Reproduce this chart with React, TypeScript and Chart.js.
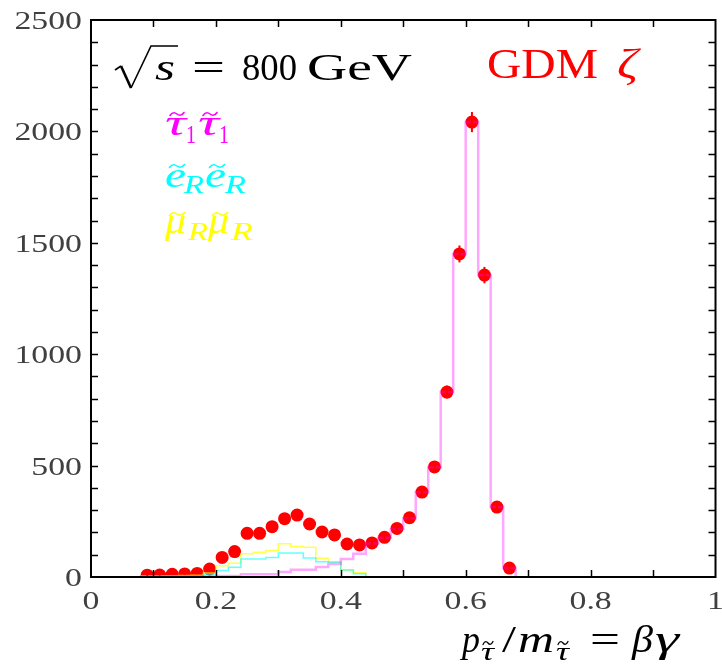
import React, { useEffect, useRef } from 'react';
import { Chart, registerables } from 'chart.js';

Chart.register(...registerables);

// ---- data ----
const binCenters = [
  0.09, 0.11, 0.13, 0.15, 0.17, 0.19, 0.21, 0.23, 0.25, 0.27,
  0.29, 0.31, 0.33, 0.35, 0.37, 0.39, 0.41, 0.43, 0.45, 0.47,
  0.49, 0.51, 0.53, 0.55, 0.57, 0.59, 0.61, 0.63, 0.65, 0.67,
];
const binWidth = 0.02;

// total (GDM zeta, red points)
const totalCounts = [
  8, 9, 12, 14, 16, 36, 88, 114, 196, 196,
  226, 262, 278, 238, 202, 189, 148, 144, 153, 178,
  218, 266, 381, 494, 830, 1450, 2042, 1355, 314, 40,
];
const totalErrors = [
  3, 3, 3.5, 3.7, 4, 6, 9.4, 10.7, 14, 14,
  15, 16.2, 16.7, 15.4, 14.2, 13.7, 12.2, 12, 12.4, 13.3,
  14.8, 16.3, 19.5, 22.2, 28.8, 38, 45.2, 36.8, 17.7, 6.3,
];
// stau_1 stau_1 (magenta histogram)
const stauCounts = [
  1, 1, 2, 2, 2, 3, 5, 5, 12, 12,
  12, 22, 32, 32, 45, 58, 81, 104, 150, 176,
  216, 264, 380, 493, 830, 1450, 2042, 1355, 314, 40,
];
// selectron_R selectron_R (cyan histogram)
const selectronCounts = [
  3, 3, 4, 5, 6, 12, 29, 44, 81, 81,
  87, 108, 108, 85, 69, 66, 31, 15,
];
// smuon_R smuon_R (yellow histogram)
const smuonCounts = [
  4, 4, 6, 7, 8, 18, 50, 62, 104, 111,
  119, 149, 137, 134, 84, 69, 31, 19,
];

const xTickValues = [0, 0.2, 0.4, 0.6, 0.8, 1];
const xTickLabels = ['0', '0.2', '0.4', '0.6', '0.8', '1'];
const yTickValues = [0, 500, 1000, 1500, 2000, 2500];
const yTickLabels = ['0', '500', '1000', '1500', '2000', '2500'];
const xMinorTicks = [0.1, 0.2, 0.3, 0.4, 0.5, 0.6, 0.7, 0.8, 0.9];
const yMinorTicks = [
  100, 200, 300, 400, 500, 600, 700, 800, 900, 1000, 1100, 1200,
  1300, 1400, 1500, 1600, 1700, 1800, 1900, 2000, 2100, 2200, 2300, 2400,
];

// ---- helpers ----
function histPoints(values: number[]) {
  const pts: { x: number; y: number }[] = [];
  const half = binWidth / 2;
  pts.push({ x: binCenters[0] - half, y: 0 });
  values.forEach((v, i) => {
    pts.push({ x: binCenters[i] - half, y: v });
    pts.push({ x: binCenters[i] + half, y: v });
  });
  pts.push({ x: binCenters[values.length - 1] + half, y: 0 });
  return pts;
}

const SERIF = '"Liberation Serif", "DejaVu Serif", serif';

function drawText(
  ctx: CanvasRenderingContext2D,
  text: string,
  x: number,
  y: number,
  font: string,
  color: string,
  opts: { width?: number; sx?: number; align?: 'left' | 'center' | 'right' } = {}
) {
  ctx.save();
  ctx.font = font;
  ctx.fillStyle = color;
  ctx.textBaseline = 'alphabetic';
  ctx.textAlign = 'left';
  const w = ctx.measureText(text).width;
  const sx = opts.width ? opts.width / w : opts.sx ?? 1;
  let left = x;
  if (opts.align === 'center') left = x - (w * sx) / 2;
  else if (opts.align === 'right') left = x - w * sx;
  ctx.translate(left, y);
  ctx.scale(sx, 1);
  ctx.fillText(text, 0, 0);
  ctx.restore();
}

function drawTilde(ctx: CanvasRenderingContext2D, cx: number, y: number, w: number, color: string, lw = 1.6) {
  const x0 = cx - w / 2;
  ctx.save();
  ctx.strokeStyle = color;
  ctx.lineWidth = lw;
  ctx.lineCap = 'round';
  ctx.beginPath();
  ctx.moveTo(x0, y + 1.5);
  ctx.bezierCurveTo(x0 + w * 0.2, y - 2.8, x0 + w * 0.4, y - 1.2, x0 + w * 0.5, y);
  ctx.bezierCurveTo(x0 + w * 0.6, y + 1.2, x0 + w * 0.8, y + 2.8, x0 + w, y - 1.5);
  ctx.stroke();
  ctx.restore();
}

const decorPlugin = {
  id: 'decor',
  afterDatasetsDraw(chart: any) {
    const ctx: CanvasRenderingContext2D = chart.ctx;
    const xs = chart.scales.x;
    const ys = chart.scales.y;
    const { left, right, top, bottom } = chart.chartArea;

    // error bars on the red points
    ctx.save();
    ctx.strokeStyle = '#ff0000';
    ctx.lineWidth = 2;
    binCenters.forEach((c, i) => {
      const px = xs.getPixelForValue(c);
      const y1 = ys.getPixelForValue(totalCounts[i] - totalErrors[i]);
      const y2 = ys.getPixelForValue(totalCounts[i] + totalErrors[i]);
      ctx.beginPath();
      ctx.moveTo(px, Math.min(y1, bottom));
      ctx.lineTo(px, y2);
      ctx.stroke();
    });
    ctx.restore();

    // frame
    ctx.save();
    ctx.strokeStyle = '#000';
    ctx.lineWidth = 2;
    ctx.strokeRect(left, top, right - left, bottom - top);
    // ticks (inward)
    ctx.lineWidth = 1.5;
    const tl = 7;
    ctx.beginPath();
    xMinorTicks.forEach((v) => {
      const px = Math.round(xs.getPixelForValue(v)) + 0.5;
      ctx.moveTo(px, bottom);
      ctx.lineTo(px, bottom - tl);
      ctx.moveTo(px, top);
      ctx.lineTo(px, top + tl);
    });
    yMinorTicks.forEach((v) => {
      const py = Math.round(ys.getPixelForValue(v)) + 0.5;
      ctx.moveTo(left, py);
      ctx.lineTo(left + tl, py);
      ctx.moveTo(right, py);
      ctx.lineTo(right - tl, py);
    });
    ctx.stroke();
    ctx.restore();

    // tick labels
    const tickFont = `26px ${SERIF}`;
    yTickValues.forEach((v, i) => {
      const py = ys.getPixelForValue(v);
      drawText(ctx, yTickLabels[i], 82, py + 9, tickFont, '#404040', { sx: 1.3, align: 'right' });
    });
    xTickValues.forEach((v, i) => {
      const px = xs.getPixelForValue(v);
      drawText(ctx, xTickLabels[i], px, 609, tickFont, '#404040', { sx: 1.3, align: 'center' });
    });
  },
  afterDraw(chart: any) {
    const ctx: CanvasRenderingContext2D = chart.ctx;
    const big = `38px ${SERIF}`;
    const bigIt = `italic 38px ${SERIF}`;
    const subIt = `italic 26px ${SERIF}`;
    const sub = `26px ${SERIF}`;

    // sqrt(s) = 800 GeV
    ctx.save();
    ctx.strokeStyle = '#000';
    ctx.lineJoin = 'miter';
    ctx.lineWidth = 1.6;
    ctx.beginPath();
    ctx.moveTo(115, 70);
    ctx.lineTo(121, 66);
    ctx.stroke();
    ctx.lineWidth = 2.6;
    ctx.beginPath();
    ctx.moveTo(121, 66);
    ctx.lineTo(131, 88);
    ctx.stroke();
    ctx.lineWidth = 1.6;
    ctx.beginPath();
    ctx.moveTo(131, 88);
    ctx.lineTo(151, 46);
    ctx.lineTo(178, 46);
    ctx.stroke();
    ctx.restore();
    drawText(ctx, 's', 155, 80, bigIt, '#000', { width: 20 });
    drawText(ctx, '=', 192, 80, big, '#000', { width: 33 });
    drawText(ctx, '800', 242, 80, big, '#000', { width: 55 });
    drawText(ctx, 'GeV', 307, 80, big, '#000', { width: 105 });

    // GDM zeta
    drawText(ctx, 'GDM', 487, 78, `42px ${SERIF}`, '#ff0000', { width: 111 });
    drawText(ctx, 'ζ', 617, 78, `italic 42px ${SERIF}`, '#ff0000', { width: 21 });

    // legend: stau stau
    const mag = '#ff00ff';
    drawText(ctx, 'τ', 165, 135, `italic 36px ${SERIF}`, mag, { width: 21 });
    drawTilde(ctx, 177, 114, 14, mag);
    drawText(ctx, '1', 186, 143, sub, mag, { width: 10 });
    drawText(ctx, 'τ', 198, 135, `italic 36px ${SERIF}`, mag, { width: 21 });
    drawTilde(ctx, 210, 114, 14, mag);
    drawText(ctx, '1', 219, 143, sub, mag, { width: 10 });

    // legend: eR eR
    const cy = '#00ffff';
    drawText(ctx, 'e', 165, 187, `italic 36px ${SERIF}`, cy, { width: 21 });
    drawTilde(ctx, 177, 166, 15, cy);
    drawText(ctx, 'R', 184, 193, subIt, cy, { width: 20 });
    drawText(ctx, 'e', 205, 187, `italic 36px ${SERIF}`, cy, { width: 21 });
    drawTilde(ctx, 217, 166, 15, cy);
    drawText(ctx, 'R', 225, 193, subIt, cy, { width: 21 });

    // legend: muR muR
    const ye = '#ffff00';
    drawText(ctx, 'μ', 165, 233, `italic 36px ${SERIF}`, ye, { width: 21 });
    drawTilde(ctx, 177, 214, 15, ye);
    drawText(ctx, 'R', 188, 240, subIt, ye, { width: 20 });
    drawText(ctx, 'μ', 208, 233, `italic 36px ${SERIF}`, ye, { width: 21 });
    drawTilde(ctx, 220, 214, 15, ye);
    drawText(ctx, 'R', 231, 240, subIt, ye, { width: 22 });

    // x-axis title: p_stau / m_stau = beta gamma
    const k = '#000';
    drawText(ctx, 'p', 462, 652, bigIt, k, { width: 18 });
    drawText(ctx, 'τ', 481, 660, subIt, k, { width: 13 });
    drawTilde(ctx, 488, 643, 10, k, 1.3);
    drawText(ctx, '/', 502, 652, big, k, { width: 14 });
    drawText(ctx, 'm', 518, 652, bigIt, k, { width: 36 });
    drawText(ctx, 'τ', 556, 660, subIt, k, { width: 13 });
    drawTilde(ctx, 563, 643, 10, k, 1.3);
    drawText(ctx, '=', 590, 652, big, k, { width: 30 });
    drawText(ctx, 'β', 632, 652, bigIt, k, { width: 21 });
    drawText(ctx, 'γ', 655, 652, bigIt, k, { width: 24 });
  },
};

export default function App() {
  const ref = useRef<HTMLCanvasElement | null>(null);

  useEffect(() => {
    document.body.style.margin = '0';
    const canvas = ref.current;
    if (!canvas) return;
    const chart = new Chart(canvas, {
      type: 'line',
      data: {
        datasets: [
          {
            label: 'stau',
            data: histPoints(stauCounts),
            borderColor: 'rgba(255,0,255,0.35)',
            borderWidth: 2.5,
            pointRadius: 0,
            fill: false,
            tension: 0,
            order: 1,
            clip: 0,
          },
          {
            label: 'selectron',
            data: histPoints(selectronCounts),
            borderColor: 'rgba(0,255,255,0.6)',
            borderWidth: 1.5,
            pointRadius: 0,
            fill: false,
            tension: 0,
            order: 1,
            clip: 0,
          },
          {
            label: 'smuon',
            data: histPoints(smuonCounts),
            borderColor: 'rgba(255,255,0,0.7)',
            borderWidth: 1.5,
            pointRadius: 0,
            fill: false,
            tension: 0,
            order: 1,
            clip: 0,
          },
          {
            label: 'total',
            data: binCenters.map((c, i) => ({ x: c, y: totalCounts[i] })),
            showLine: false,
            pointRadius: 6.5,
            pointBackgroundColor: '#ff0000',
            pointBorderWidth: 0,
            borderColor: '#ff0000',
            order: 2,
            clip: 0,
          },
        ] as any,
      },
      options: {
        animation: false,
        responsive: false,
        devicePixelRatio: 1,
        layout: { padding: { left: 91, right: 6, top: 20, bottom: 89 } },
        plugins: { legend: { display: false }, tooltip: { enabled: false } },
        events: [],
        scales: {
          x: { type: 'linear', min: 0, max: 1, display: false },
          y: { type: 'linear', min: 0, max: 2500, display: false },
        },
      },
      plugins: [decorPlugin],
    });
    return () => chart.destroy();
  }, []);

  return (
    <div style={{ width: 722, height: 666, background: '#fff' }}>
      <canvas ref={ref} width={722} height={666} style={{ display: 'block' }} />
    </div>
  );
}
